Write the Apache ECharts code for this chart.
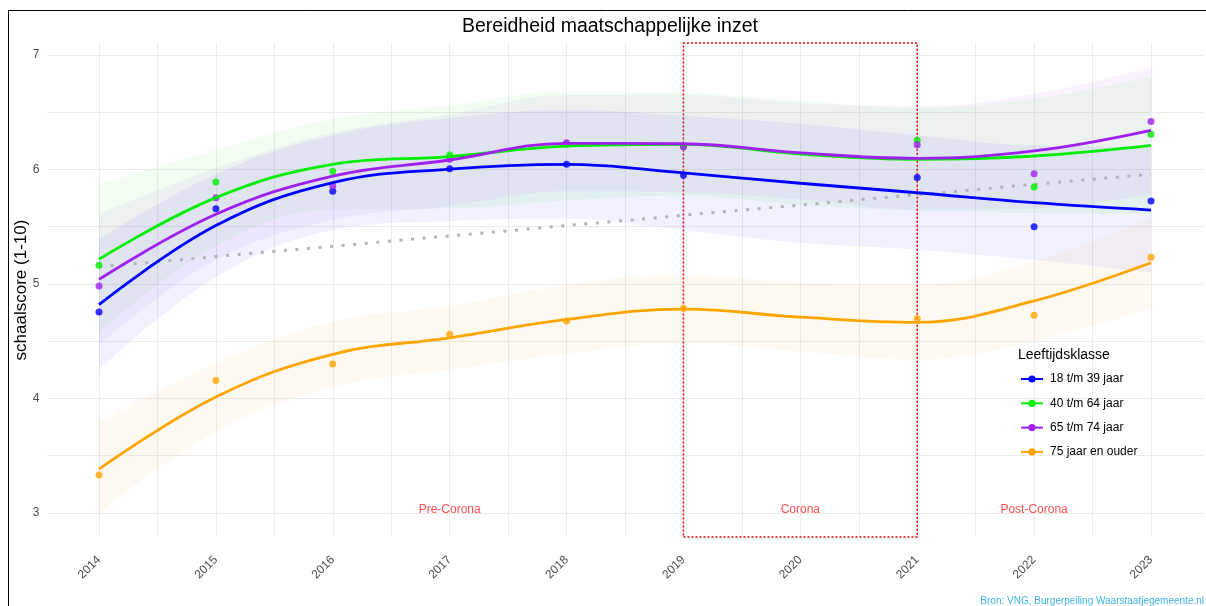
<!DOCTYPE html>
<html>
<head>
<meta charset="utf-8">
<title>Bereidheid maatschappelijke inzet</title>
<script src="https://cdn.jsdelivr.net/npm/echarts@6/dist/echarts.min.js"></script>
<style>
  html, body { margin: 0; padding: 0; background: #fff; }
  #chart { width: 1206px; height: 606px; }
</style>
</head>
<body>
<div id="chart"></div>
<script>
// assen
var xGridValues = [2014, 2014.5, 2015, 2015.5, 2016, 2016.5, 2017, 2017.5, 2018, 2018.5,
                   2019, 2019.5, 2020, 2020.5, 2021, 2021.5, 2022, 2022.5, 2023];
var yearTicks = [2014, 2015, 2016, 2017, 2018, 2019, 2020, 2021, 2022, 2023];
var yGridValues = [3, 3.5, 4, 4.5, 5, 5.5, 6, 6.5, 7];
var yTicks = [3, 4, 5, 6, 7];

var groups = ['18 t/m 39 jaar', '40 t/m 64 jaar', '65 t/m 74 jaar', '75 jaar en ouder'];
var colors = ['#0000ff', '#00ee00', '#a020f0', '#ffa500'];

// gemeten scores (geen meting in 2020)
var pointYears = [2014, 2015, 2016, 2017, 2018, 2019, 2021, 2022, 2023];
var blue   = [4.755, 5.658, 5.81, 6.007, 6.045, 5.95, 5.93, 5.50, 5.725];
var green  = [5.163, 5.891, 5.984, 6.127, 6.22, 6.20, 6.255, 5.847, 6.307];
var purple = [4.983, 5.754, 5.856, 6.09, 6.234, 6.197, 6.217, 5.963, 6.42];
var orange = [3.332, 4.156, 4.301, 4.561, 4.677, 4.788, 4.697, 4.727, 5.233];

var fitYears = [2014, 2015, 2016, 2017, 2018, 2019, 2020, 2021, 2022, 2023];
var blueFit   = [4.82, 5.51, 5.885, 6.004, 6.045, 5.97, 5.88, 5.797, 5.71, 5.646];
var greenFit  = [5.216, 5.754, 6.045, 6.112, 6.205, 6.22, 6.135, 6.089, 6.118, 6.211];
var purpleFit = [5.04, 5.609, 5.943, 6.083, 6.229, 6.225, 6.145, 6.098, 6.162, 6.342];
var orangeFit = [3.382, 4.013, 4.386, 4.53, 4.69, 4.78, 4.71, 4.665, 4.852, 5.186];

// betrouwbaarheidsbanden
var blueLo   = [4.25, 5.06, 5.47, 5.55, 5.57, 5.47, 5.36, 5.30, 5.21, 5.10];
var blueHi   = [5.39, 5.96, 6.30, 6.45, 6.52, 6.47, 6.40, 6.30, 6.21, 6.20];
var greenLo  = [4.57, 5.33, 5.65, 5.66, 5.73, 5.77, 5.69, 5.64, 5.62, 5.61];
var greenHi  = [5.87, 6.17, 6.44, 6.56, 6.68, 6.67, 6.60, 6.54, 6.62, 6.81];
var purpleLo = [4.47, 5.21, 5.56, 5.68, 5.81, 5.80, 5.74, 5.65, 5.66, 5.79];
var purpleHi = [5.61, 6.01, 6.32, 6.48, 6.65, 6.65, 6.58, 6.55, 6.66, 6.89];
var orangeLo = [3.00, 3.71, 4.10, 4.25, 4.39, 4.48, 4.41, 4.34, 4.50, 4.79];
var orangeHi = [3.79, 4.31, 4.67, 4.81, 4.99, 5.08, 5.01, 4.99, 5.20, 5.58];

// lineaire trend (alle groepen)
var trendYears = [2014, 2023];
var trend = [5.15, 5.96];

// periodes
var periodNames = ['Pre-Corona', 'Corona', 'Post-Corona'];
var periodX = [2017, 2020, 2022];
var periodY = [3.03, 3.03, 3.03];
var coronaStart = 2019, coronaEnd = 2021;

var points = [blue, green, purple, orange];
var fits = [blueFit, greenFit, purpleFit, orangeFit];
var lows = [blueLo, greenLo, purpleLo, orangeLo];
var highs = [blueHi, greenHi, purpleHi, orangeHi];

function pairs(xs, ys) {
    return xs.map(function (x, i) { return [x, ys[i]]; });
}
// y eerst, zodat de stack op de y-waarde werkt (x is ook een value-as)
function pairsYX(xs, ys) {
    return xs.map(function (x, i) { return [ys[i], x]; });
}

var series = [];

groups.forEach(function (g, i) {
    var width = highs[i].map(function (h, k) { return h - lows[i][k]; });
    series.push({
        name: g + ' lo', type: 'line', stack: 'band' + i, smooth: 0.4,
        data: pairsYX(fitYears, lows[i]), encode: { x: 1, y: 0 },
        symbol: 'none', lineStyle: { opacity: 0 }, silent: true, z: 1
    });
    series.push({
        name: g + ' band', type: 'line', stack: 'band' + i, smooth: 0.4,
        data: pairsYX(fitYears, width), encode: { x: 1, y: 0 },
        symbol: 'none', lineStyle: { opacity: 0 },
        areaStyle: { color: colors[i], opacity: 0.055 }, silent: true, z: 1
    });
});

series.push({
    name: 'trend', type: 'line', data: pairs(trendYears, trend),
    symbol: 'none', silent: true, z: 2,
    lineStyle: { color: '#b3b3b3', width: 3, type: [3, 8.6] },
    markArea: {
        silent: true,
        itemStyle: { color: 'rgba(0,0,0,0)', borderColor: '#ff0000', borderWidth: 1.5, borderType: [2, 2] },
        data: [[{ xAxis: coronaStart }, { xAxis: coronaEnd }]]
    }
});

groups.forEach(function (g, i) {
    series.push({
        name: g, type: 'line', smooth: 0.4, data: pairs(fitYears, fits[i]),
        symbol: 'circle', symbolSize: 7, showSymbol: false, z: 4,
        lineStyle: { color: colors[i], width: 2.8 },
        itemStyle: { color: colors[i] }
    });
});
groups.forEach(function (g, i) {
    series.push({
        name: g, type: 'scatter', data: pairs(pointYears, points[i]),
        symbolSize: 7, z: 3, itemStyle: { color: colors[i] }
    });
});

series.push({
    name: 'periodes', type: 'scatter', data: pairs(periodX, periodY),
    symbolSize: 1, itemStyle: { color: 'rgba(0,0,0,0)' }, silent: true, z: 5,
    label: {
        show: true, position: 'inside', color: '#ff2222', fontSize: 12,
        fontFamily: 'Liberation Sans, Arial, sans-serif',
        formatter: function (p) { return periodNames[p.dataIndex]; }
    }
});

var chart = echarts.init(document.getElementById('chart'));
chart.setOption({
    backgroundColor: '#fff',
    animation: false,
    textStyle: { fontFamily: 'Liberation Sans, Arial, sans-serif' },
    title: [{
        text: 'Bereidheid maatschappelijke inzet',
        left: 462, top: 17, padding: 0,
        textStyle: { fontSize: 19.5, fontWeight: 'normal', color: '#000' }
    }, {
        text: 'Leeftijdsklasse',
        left: 1018, top: 348, padding: 0,
        textStyle: { fontSize: 14, fontWeight: 'normal', color: '#000' }
    }],
    legend: {
        data: groups, orient: 'vertical', left: 1020, top: 373, padding: 0,
        itemWidth: 22, itemHeight: 9, itemGap: 12.3, selectedMode: false,
        textStyle: { fontSize: 12, color: '#000', padding: [0, 0, 0, 2] }
    },
    grid: { left: 46.4, right: 2.4, top: 43, bottom: 69, containLabel: false },
    xAxis: {
        type: 'value', min: 2013.55, max: 2023.45,
        axisLine: { show: false },
        axisTick: { show: false, customValues: xGridValues },
        axisLabel: {
            customValues: yearTicks, rotate: 45, margin: 21,
            color: '#4d4d4d', fontSize: 12,
            formatter: function (v) { return String(v); }
        },
        splitLine: { show: true, lineStyle: { color: '#ebebeb', width: 1 } }
    },
    yAxis: {
        type: 'value', min: 2.79, max: 7.105,
        name: 'schaalscore (1-10)', nameLocation: 'middle', nameGap: 17,
        nameMoveOverlap: false,
        nameTextStyle: { fontSize: 17, color: '#000' },
        axisLine: { show: false },
        axisTick: { show: false, customValues: yGridValues },
        axisLabel: {
            customValues: yTicks, margin: 7, color: '#4d4d4d', fontSize: 12,
            formatter: function (v) { return String(v); }
        },
        splitLine: { show: true, lineStyle: { color: '#ebebeb', width: 1 } }
    },
    graphic: [{
        type: 'rect', silent: true,
        shape: { x: 8.5, y: 10.5, width: 1210, height: 610 },
        style: { fill: 'none', stroke: '#000', lineWidth: 1 }
    }, {
        type: 'text', right: 2, top: 596, silent: true,
        style: {
            text: 'Bron: VNG, Burgerpeiling Waarstaatjegemeente.nl',
            fill: '#3fb4e6', font: '10px "Liberation Sans", Arial, sans-serif'
        }
    }],
    series: series
});
</script>
</body>
</html>
